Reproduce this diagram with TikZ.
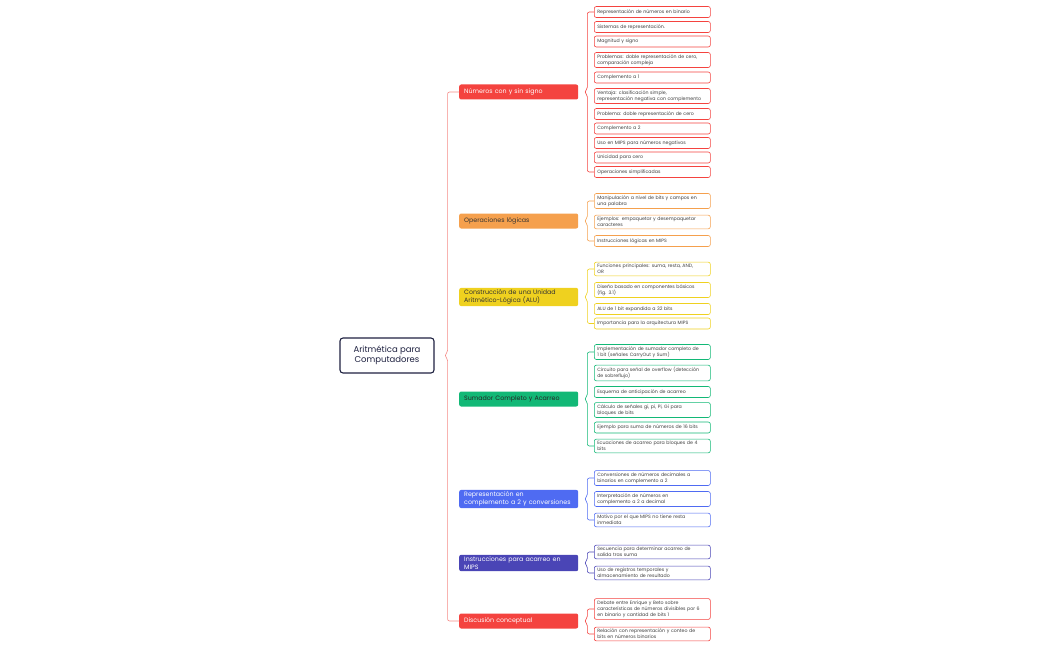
\documentclass[tikz,border=0pt]{standalone}
\usepackage{fontspec}
\setmainfont{Poppins}
\usetikzlibrary{calc}
\definecolor{cred}{HTML}{F4433F}
\definecolor{cora}{HTML}{F5A04D}
\definecolor{cyel}{HTML}{EFD11F}
\definecolor{cgrn}{HTML}{12B876}
\definecolor{cblu}{HTML}{4F6BF2}
\definecolor{cpur}{HTML}{4A45B6}
\definecolor{cnavy}{HTML}{1E2140}
\definecolor{cbr}{HTML}{F58A86}
\tikzset{
  leaf/.style={draw=#1, line width=0.6pt, fill=white, rounded corners=2pt, text width=110pt, align=left,
    font=\fontsize{4.7}{6}\selectfont, text=black!75, inner xsep=3pt, inner ysep=2pt, minimum height=11pt, anchor=west},
  topic/.style={fill=#1, rounded corners=2pt, text width=109pt, align=left, font=\fontsize{6.3}{7.6}\selectfont,
    inner xsep=5pt, inner ysep=2pt, minimum height=15pt, anchor=west},
  root/.style={draw=cnavy, line width=1.1pt, rounded corners=3pt, minimum width=94pt, minimum height=35pt, align=center,
    font=\fontsize{8.5}{10}\selectfont, text=cnavy},
  br/.style={draw=#1, line width=0.6pt, rounded corners=2pt}
}
\newcommand{\brc}[5]{% color, parent, first, last, offset
  \draw[br=#1] (#3.west) -| ($(#2.east)+(#5,-3)$) -- ($(#2.east)+(#5-3,0)$) -- ($(#2.east)+(#5,3)$) |- (#4.west);}
\begin{document}
\begin{tikzpicture}[x=1pt,y=-1pt]
\useasboundingbox (0,0) rectangle (1050,650);
\node[root] (r) at (387,355.5) {Aritmética para\\Computadores};
\node[topic=cred, text=white] (t1) at (459,92) {Números con y sin signo};
\node[topic=cora, text=black!80] (t2) at (459,221) {Operaciones lógicas};
\node[topic=cyel, text=black!80] (t3) at (459,297) {Construcción de una Unidad\\Aritmético-Lógica (ALU)};
\node[topic=cgrn, text=black!85] (t4) at (459,399) {Sumador Completo y Acarreo};
\node[topic=cblu, text=white] (t5) at (459,499) {Representación en\\complemento a 2 y conversiones};
\node[topic=cpur, text=white] (t6) at (459,563) {Instrucciones para acarreo en\\MIPS};
\node[topic=cred, text=white] (t7) at (459,621) {Discusión conceptual};
% group 1
\node[leaf=cred] (a1) at (594,12) {Representación de números en binario};
\node[leaf=cred] (a2) at (594,27) {Sistemas de representación.};
\node[leaf=cred] (a3) at (594,41.5) {Magnitud y signo};
\node[leaf=cred] (a4) at (594,60) {Problemas: doble representación de cero,\\comparación compleja};
\node[leaf=cred] (a5) at (594,77.5) {Complemento a 1};
\node[leaf=cred] (a6) at (594,96) {Ventaja: clasificación simple,\\representación negativa con complemento};
\node[leaf=cred] (a7) at (594,114) {Problema: doble representación de cero};
\node[leaf=cred] (a8) at (594,128.5) {Complemento a 2};
\node[leaf=cred] (a9) at (594,143) {Uso en MIPS para números negativos};
\node[leaf=cred] (a10) at (594,157.5) {Unicidad para cero};
\node[leaf=cred] (a11) at (594,172) {Operaciones simplificadas};
% group 2
\node[leaf=cora] (b1) at (594,201) {Manipulación a nivel de bits y campos en\\una palabra};
\node[leaf=cora] (b2) at (594,222) {Ejemplos: empaquetar y desempaquetar\\caracteres};
\node[leaf=cora] (b3) at (594,241) {Instrucciones lógicas en MIPS};
% group 3
\node[leaf=cyel] (c1) at (594,269) {Funciones principales: suma, resta, AND,\\OR};
\node[leaf=cyel] (c2) at (594,290) {Diseño basado en componentes básicos\\(fig. 3.1)};
\node[leaf=cyel] (c3) at (594,309) {ALU de 1 bit expandida a 32 bits};
\node[leaf=cyel] (c4) at (594,323.5) {Importancia para la arquitectura MIPS};
% group 4
\node[leaf=cgrn] (d1) at (594,352) {Implementación de sumador completo de\\1 bit (señales CarryOut y Sum)};
\node[leaf=cgrn] (d2) at (594,373) {Circuito para señal de overflow (detección\\de sobreflujo)};
\node[leaf=cgrn] (d3) at (594,392) {Esquema de anticipación de acarreo};
\node[leaf=cgrn] (d4) at (594,410) {Cálculo de señales gi, pi, Pi, Gi para\\bloques de bits};
\node[leaf=cgrn] (d5) at (594,427.5) {Ejemplo para suma de números de 16 bits};
\node[leaf=cgrn] (d6) at (594,446) {Ecuaciones de acarreo para bloques de 4\\bits};
% group 5
\node[leaf=cblu] (e1) at (594,478) {Conversiones de números decimales a\\binarios en complemento a 2};
\node[leaf=cblu] (e2) at (594,499) {Interpretación de números en\\complemento a 2 a decimal};
\node[leaf=cblu] (e3) at (594,520) {Motivo por el que MIPS no tiene resta\\inmediata};
% group 6
\node[leaf=cpur] (f1) at (594,552) {Secuencia para determinar acarreo de\\salida tras suma};
\node[leaf=cpur] (f2) at (594,573) {Uso de registros temporales y\\almacenamiento de resultado};
% group 7
\node[leaf=cred] (g1) at (594,609) {Debate entre Enrique y Beto sobre\\características de números divisibles por 6\\en binario y cantidad de bits 1};
\node[leaf=cred] (g2) at (594,634) {Relación con representación y conteo de\\bits en números binarios};
% braces
\brc{cbr}{r}{t1}{t7}{13}
\brc{cred}{t1}{a1}{a11}{9}
\brc{cora}{t2}{b1}{b3}{9}
\brc{cyel}{t3}{c1}{c4}{9}
\brc{cgrn}{t4}{d1}{d6}{9}
\brc{cblu}{t5}{e1}{e3}{9}
\brc{cpur}{t6}{f1}{f2}{9}
\brc{cred}{t7}{g1}{g2}{9}
\end{tikzpicture}
\end{document}
